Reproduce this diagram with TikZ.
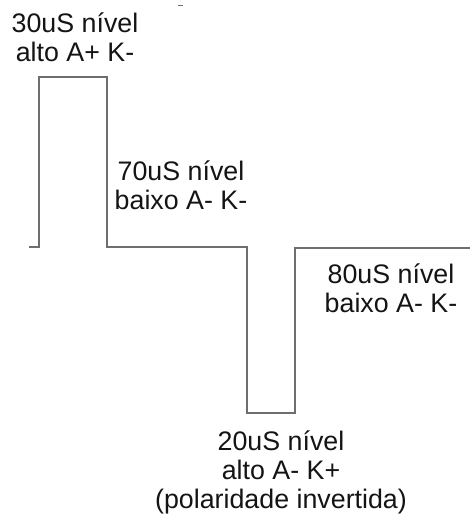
\documentclass[tikz,border=0pt]{standalone}
\usepackage{fontspec}
\setmainfont{Liberation Sans}
\begin{document}
\begin{tikzpicture}[x=1pt,y=-1pt,
  wave/.style={draw={rgb,255:red,110;green,110;blue,110},line width=1.3pt},
  lbl/.style={align=center,inner sep=0pt,font=\fontsize{26.8}{29}\selectfont,text={rgb,255:red,20;green,20;blue,20}}]
\useasboundingbox (0,0) rectangle (470,518);
\coordinate (p0) at (29,247);
\coordinate (p1) at (39,247);
\coordinate (p2) at (39,77);
\coordinate (p3) at (107,77);
\coordinate (p4) at (107,247);
\coordinate (p5) at (247,247);
\coordinate (p6) at (247,413);
\coordinate (p7) at (295,413);
\coordinate (p8) at (295,248);
\coordinate (p9) at (470,248);
\draw[wave] (p0) -- (p1) -- (p2) -- (p3) -- (p4) -- (p5) -- (p6) -- (p7) -- (p8) -- (p9);
\coordinate (d0) at (178,5);
\coordinate (d1) at (183,5);
\draw[wave,line width=0.8pt] (d0) -- (d1);
\node[lbl,anchor=base] (t30) at (75,62) {30uS nível\\alto A+ K-};
\node[lbl,anchor=base] (t70) at (181,210) {70uS nível\\baixo A- K-};
\node[lbl,anchor=base] (t80) at (391,312) {80uS nível\\baixo A- K-};
\node[lbl,anchor=base] (t20) at (281,508) {20uS nível\\alto A- K+\\(polaridade invertida)};
\end{tikzpicture}
\end{document}
